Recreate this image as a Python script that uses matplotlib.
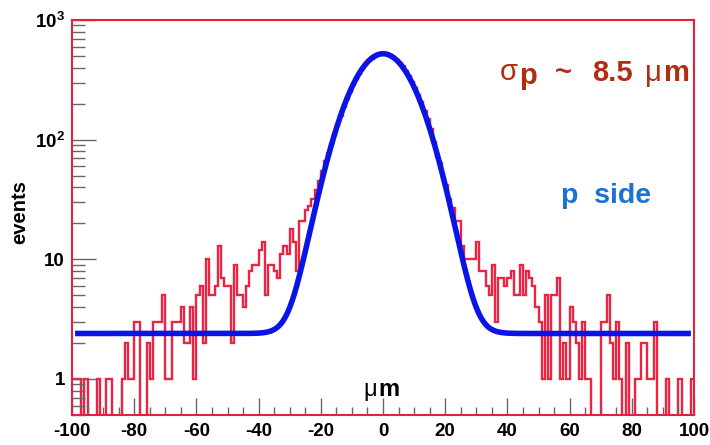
import numpy as np
import matplotlib
matplotlib.use("Agg")
import matplotlib.pyplot as plt
from matplotlib.ticker import MultipleLocator, LogLocator, FixedLocator, FixedFormatter, NullFormatter

plt.rcParams['font.family'] = ['Liberation Sans', 'DejaVu Sans']
plt.rcParams['font.weight'] = 'bold'
plt.rcParams['axes.unicode_minus'] = False
plt.rcParams['mathtext.fontset'] = 'custom'
plt.rcParams['mathtext.rm'] = 'Liberation Sans'
plt.rcParams['mathtext.bf'] = 'Liberation Sans:bold'

# histogram: 1 um bins from -100 to 100 (counts)
bin_edges = np.arange(-100, 101, 1)
counts = [
    1, 1, 1, 0, 1, 0, 0, 0, 1, 0,            # -100 .. -91
    0, 1, 1, 0, 0, 0, 1, 2, 1, 1,            # -90 .. -81
    3, 3, 0, 0, 2, 1, 3, 3, 3, 5,            # -80 .. -71
    1, 1, 3, 3, 3, 4, 2, 2, 4, 1,            # -70 .. -61
    5, 6, 2, 10, 5, 5, 6, 13, 7, 6,          # -60 .. -51
    6, 2, 9, 5, 5, 4, 6, 8, 9, 9,            # -50 .. -41
    12, 14, 5, 9, 9, 8, 7, 11, 13, 11,       # -40 .. -31
    18, 14, 8, 21, 21, 26, 28, 32, 38, 45,   # -30 .. -21
    55, 66, 78, 92, 110, 132, 158, 186, 218, 250,   # -20 .. -11
    285, 320, 355, 390, 420, 450, 475, 495, 510, 520,  # -10 .. -1
    525, 520, 508, 490, 466, 440, 410, 376, 342, 306,  # 0 .. 9
    272, 238, 205, 175, 148, 122, 96, 72, 64, 47,      # 10 .. 19
    42, 32, 27, 21, 21, 13, 10, 10, 10, 10,  # 20 .. 29
    14, 8, 8, 6, 5, 9, 3, 7, 7, 6,           # 30 .. 39
    7, 8, 5, 5, 9, 5, 8, 7, 6, 4,            # 40 .. 49
    3, 1, 5, 1, 5, 5, 7, 1, 2, 1,            # 50 .. 59
    4, 3, 2, 1, 3, 1, 1, 0, 0, 0,            # 60 .. 69
    3, 3, 5, 2, 1, 3, 1, 0, 2, 0,            # 70 .. 79
    0, 1, 1, 2, 2, 1, 1, 3, 0, 0,            # 80 .. 89
    0, 1, 0, 0, 0, 1, 0, 0, 0, 1,            # 90 .. 99
]

# gaussian + constant fit
fit_amp = 520.0
fit_mean = 0.0
fit_sigma = 8.8
fit_const = 2.4
fit_range = (-99, 99)

x_ticks = [-100, -80, -60, -40, -20, 0, 20, 40, 60, 80, 100]
y_ticks = [1, 10, 100, 1000]
y_tick_labels = ['1', '10', r'$\mathbf{10^{2}}$', r'$\mathbf{10^{3}}$']

frame_red = '#e3213d'
hist_red = '#ec2443'
fit_blue = '#0a14e6'

fig = plt.figure(figsize=(7.1, 4.45), dpi=100)
ax = fig.add_axes([72 / 710, 30 / 445, 622 / 710, 395 / 445])

ax.stairs(counts, bin_edges, color=hist_red, linewidth=1.7, baseline=None)

xf = np.linspace(fit_range[0], fit_range[1], 800)
yf = fit_amp * np.exp(-0.5 * ((xf - fit_mean) / fit_sigma) ** 2) + fit_const
ax.plot(xf, yf, color=fit_blue, linewidth=4, solid_capstyle='butt')

ax.set_yscale('log')
ax.set_xlim(-100, 100)
ax.set_ylim(0.5, 1000)

ax.xaxis.set_major_locator(FixedLocator(x_ticks))
ax.xaxis.set_minor_locator(MultipleLocator(5))
ax.yaxis.set_major_locator(FixedLocator(y_ticks))
ax.yaxis.set_major_formatter(FixedFormatter(y_tick_labels))
ax.yaxis.set_minor_locator(LogLocator(base=10, subs=np.arange(2, 10)))
ax.yaxis.set_minor_formatter(NullFormatter())

ax.tick_params(axis='x', which='major', direction='in', length=12, width=1,
               color='#666666', pad=6, labelsize=13.5)
ax.tick_params(axis='x', which='minor', direction='in', length=6, width=1, color='#666666')
ax.tick_params(axis='y', which='major', direction='in', length=17, width=1,
               color='#666666', pad=5, labelsize=13.5)
ax.tick_params(axis='y', which='minor', direction='in', length=9, width=1, color='#666666')

for s in ax.spines.values():
    s.set_color(frame_red)
    s.set_linewidth(1.5)

def px(x, y):
    return x / 710, 1 - y / 445

# y label
fig.text(*px(20, 212), 'events', rotation=90, ha='center', va='center',
         fontsize=14.5, fontweight='bold')

# x label inside the frame
fig.text(*px(363, 396), 'μ', fontsize=17, fontweight='normal', ha='left', va='baseline')
fig.text(*px(378, 396), 'm', fontsize=17, fontweight='bold', ha='left', va='baseline')

# sigma annotation
ann_red = '#b22c10'
fig.text(*px(500, 80), 'σ', fontsize=21, fontweight='normal', color=ann_red, va='baseline')
fig.text(*px(519, 84), 'p', fontsize=21, fontweight='bold', color=ann_red, va='baseline')
fig.text(*px(555, 80), '~', fontsize=21, fontweight='bold', color=ann_red, va='baseline')
fig.text(*px(592, 81), '8.5', fontsize=21, fontweight='bold', color=ann_red, va='baseline')
fig.text(*px(645, 81), 'μ', fontsize=21, fontweight='normal', color=ann_red, va='baseline')
fig.text(*px(664, 81), 'm', fontsize=21, fontweight='bold', color=ann_red, va='baseline')

# side label
fig.text(*px(561, 203), 'p  side', fontsize=20.5, fontweight='bold', color='#1c72d4', va='baseline')

fig.savefig('out.png', dpi=100)
